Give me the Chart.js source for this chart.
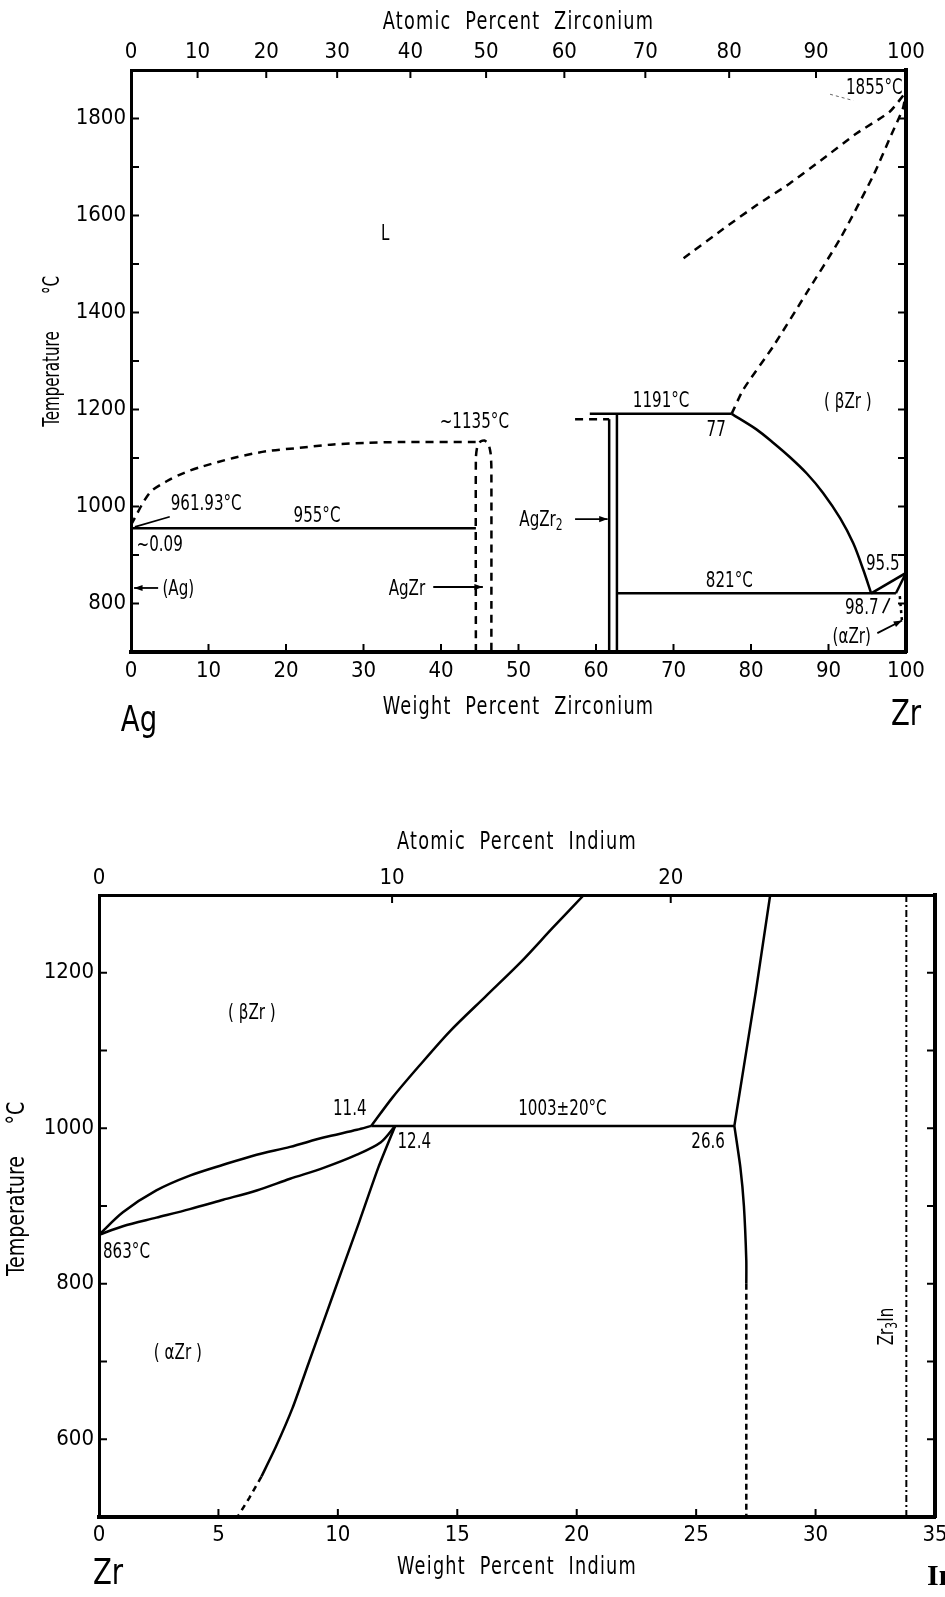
<!DOCTYPE html>
<html>
<head>
<meta charset="utf-8">
<script src="https://cdn.jsdelivr.net/npm/chart.js@4.4.1/dist/chart.umd.min.js"></script>
<style>
  html, body { margin: 0; padding: 0; background: #fff; }
  body { width: 945px; height: 1597px; position: relative; overflow: hidden; }
  canvas { position: absolute; left: 0; }
  #agzr { top: 0; }
  #zrin { top: 760px; }
</style>
</head>
<body>
<canvas id="agzr" width="945" height="750"></canvas>
<canvas id="zrin" width="945" height="837"></canvas>
<script>
// ---------- Ag-Zr : weight % Zr, temperature in deg C ----------
const agLiquidus   = [[0,962],[2.4,1028],[4.6,1052],[6.8,1069],[8.9,1081],[13.2,1100],[17.5,1114],[21.8,1121],[26.1,1128],[30.4,1131],[34.7,1133],[44.6,1133]];
const agzrPhase    = [[44.5,700],[44.5,1100],[44.7,1125],[45.1,1134],[45.6,1136],[46.1,1130],[46.4,1110],[46.5,1080],[46.5,700]];
const eutectic955  = [[0,955],[44.5,955]];
const agzr2Left    = [[61.7,700],[61.7,1180]];
const agzr2Right   = [[62.7,700],[62.7,1191]];
const agzr2Melt    = [[57.3,1180],[61.7,1180]];
const peritectic   = [[59.2,1191],[77.5,1191]];
const betaSolvus   = [[77.5,1191],[80.7,1159],[82.9,1131],[85.0,1102],[87.2,1068],[89.3,1028],[91.5,976],[93.2,924],[94.5,869],[95.4,826],[95.5,821]];
const eutectoid821 = [[62.7,821],[98.7,821]];
const betaTransus  = [[95.5,821],[100,863]];
const alphaTransus = [[98.7,821],[100,863]];
const alphaSolvus  = [[99.2,815],[99.5,760]];
const zrLiquidusA  = [[77.5,1191],[79.0,1241],[82.9,1331],[87.2,1441],[91.5,1552],[95.8,1683],[97.9,1759],[99.6,1821],[100,1855]];
const zrLiquidusB  = [[71.3,1512],[76.4,1572],[80.7,1621],[85.0,1666],[89.3,1717],[93.6,1769],[97.9,1814],[100,1855]];
const atTicksZr    = [0,10,20,30,40,50,60,70,80,90,100];

// ---------- Zr-In : weight % In, temperature in deg C ----------
const lensUpper    = [[0,863],[1.0,892],[2.4,920],[3.8,939],[5.2,953],[6.6,966],[8.0,976],[9.4,988],[10.8,998],[11.4,1003]];
const lensLower    = [[0,863],[1.0,874],[2.4,885],[3.8,896],[5.2,908],[6.6,920],[8.0,935],[9.4,949],[10.8,966],[11.8,982],[12.4,1003]];
const alphaBound   = [[12.4,1003],[11.7,950],[10.9,880],[10.2,820],[9.5,760],[8.8,700],[8.1,640],[7.4,590],[6.8,552]];
const alphaBoundDs = [[6.8,552],[6.3,525],[5.8,500]];
const eutectoid1003= [[11.4,1003],[26.6,1003]];
const betaBound    = [[11.4,1003],[12.3,1040],[13.4,1080],[14.7,1125],[16.2,1170],[17.7,1215],[19.0,1258],[20.3,1300]];
const zr3InUpper   = [[26.6,1003],[27.5,1176],[28.1,1300]];
const zr3InLower   = [[26.6,1003],[26.85,950],[27.0,900],[27.1,830],[27.1,800]];
const zr3InLowerDs = [[27.1,800],[27.1,500]];
const zr3InLine    = [[33.8,500],[33.8,1300]];
const atTicksIn    = [0,10,20];

const MASS = { Ag: 107.87, Zr: 91.22, In: 114.82 };
function atToWt(at, mSolute, mBase) {
  return 100 * at * mSolute / (at * mSolute + (100 - at) * mBase);
}

const FONT = "'DejaVu Sans Condensed', 'DejaVu Sans', sans-serif";
Chart.defaults.font.family = FONT;
Chart.defaults.color = '#000';

function line(pts, dash, tension) {
  return {
    data: pts.map(p => ({ x: p[0], y: p[1] })),
    showLine: true, pointRadius: 0, borderColor: '#000', borderWidth: 2.5,
    borderDash: dash || [], tension: tension || 0, fill: false
  };
}

// squeezed text, like the narrow lettering of the drawing
function narrowText(ctx, txt, x, y, size, sx, rot, ls) {
  ctx.save();
  ctx.font = size + 'px ' + FONT;
  ctx.letterSpacing = (ls || 0) + 'px';
  ctx.textAlign = 'center';
  ctx.textBaseline = 'middle';
  ctx.translate(x, y);
  if (rot) ctx.rotate(-Math.PI / 2);
  ctx.scale(sx, 1);
  ctx.fillText(txt, 0, 0);
  ctx.restore();
}

// inside ticks, arrows, labels and axis titles
const paper = {
  id: 'paper',
  afterDraw(chart, args, o) {
    const ctx = chart.ctx, a = chart.chartArea;
    const xs = chart.scales.x, ys = chart.scales.y;
    const px = v => xs.getPixelForValue(v), py = v => ys.getPixelForValue(v);
    ctx.save();
    ctx.strokeStyle = '#000'; ctx.fillStyle = '#000';

    ctx.lineWidth = 2;
    o.ticks.forEach(([id, len]) => {
      const sc = chart.scales[id];
      sc.ticks.forEach(t => {
        const p = sc.getPixelForValue(t.value);
        ctx.beginPath();
        if (id === 'x') { ctx.moveTo(p, a.bottom); ctx.lineTo(p, a.bottom - len); }
        else if (id === 'x2') { ctx.moveTo(p, a.top); ctx.lineTo(p, a.top + len); }
        else if (id === 'y') { ctx.moveTo(a.left, p); ctx.lineTo(a.left + len, p); }
        else { ctx.moveTo(a.right, p); ctx.lineTo(a.right - len, p); }
        ctx.stroke();
      });
    });

    (o.leaders || []).forEach(l => {
      ctx.lineWidth = l[4] ? 1 : 1.6;
      ctx.setLineDash(l[4] ? [3, 3] : []);
      ctx.strokeStyle = l[4] ? '#666' : '#000';
      ctx.beginPath(); ctx.moveTo(px(l[0]), py(l[1])); ctx.lineTo(px(l[2]), py(l[3])); ctx.stroke();
    });
    ctx.setLineDash([]); ctx.strokeStyle = '#000';

    (o.arrows || []).forEach(l => {
      const x1 = px(l[0]), y1 = py(l[1]), x2 = px(l[2]), y2 = py(l[3]);
      const ang = Math.atan2(y2 - y1, x2 - x1);
      ctx.lineWidth = 1.8;
      ctx.beginPath(); ctx.moveTo(x1, y1); ctx.lineTo(x2, y2); ctx.stroke();
      ctx.beginPath();
      ctx.moveTo(x2, y2);
      ctx.lineTo(x2 - 9 * Math.cos(ang - 0.35), y2 - 9 * Math.sin(ang - 0.35));
      ctx.lineTo(x2 - 9 * Math.cos(ang + 0.35), y2 - 9 * Math.sin(ang + 0.35));
      ctx.closePath(); ctx.fill();
    });

    // notes inside the plot, squeezed horizontally
    const SX = 0.8;
    ctx.textBaseline = 'middle';
    const main = '21px ' + FONT, small = '15px ' + FONT;
    (o.notes || []).forEach(n => {
      const parts = [[n.t, main, 0]];
      if (n.sub) parts.push([n.sub, small, 6]);
      if (n.t2) parts.push([n.t2, main, 0]);
      let w = 0;
      parts.forEach(p => { ctx.font = p[1]; w += ctx.measureText(p[0]).width; });
      ctx.save();
      ctx.translate(px(n.x), py(n.y));
      if (n.rot) ctx.rotate(-Math.PI / 2);
      ctx.scale(SX, 1);
      let x = -w / 2;
      ctx.textAlign = 'left';
      parts.forEach(p => { ctx.font = p[1]; ctx.fillText(p[0], x, p[2]); x += ctx.measureText(p[0]).width; });
      ctx.restore();
    });

    // axis titles
    const t = o.titles;
    const cx = (a.left + a.right) / 2, cy = (a.top + a.bottom) / 2;
    narrowText(ctx, t.bottom[0], cx, a.bottom + t.bottom[1], 24, 0.82, false, 1.5);
    narrowText(ctx, t.top[0], cx, a.top + t.top[1], 24, 0.82, false, 1.5);
    const L = t.left;
    narrowText(ctx, 'Temperature', L.x, cy + L.tOff, L.size, L.sx, true, 0);
    narrowText(ctx, '°C', L.x, cy + L.cOff, L.size, L.sx, true, 0);

    // element symbols
    (o.ends || []).forEach(e => {
      ctx.save();
      ctx.font = e.f || ('36px ' + FONT);
      ctx.textAlign = e.al || 'center';
      ctx.textBaseline = 'middle';
      ctx.translate(px(e.x) + e.dx, a.bottom + e.dy);
      ctx.scale(e.sx || 0.85, 1);
      ctx.fillText(e.t, 0, 0);
      ctx.restore();
    });
    ctx.restore();
  }
};

function scalesFor(c) {
  const tickFont = { size: 22 };
  return {
    x: {
      type: 'linear', position: 'bottom', min: c.xmin, max: c.xmax,
      ticks: { stepSize: c.xstep, autoSkip: false, maxRotation: 0, minRotation: 0, padding: c.xpad, font: tickFont },
      grid: { display: false, drawTicks: false }, border: { color: '#000', width: 4 },
      afterFit: s => { s.height = c.xh; s.paddingLeft = 0; s.paddingRight = 0; }
    },
    x2: {
      type: 'linear', position: 'top', min: c.xmin, max: c.xmax,
      afterBuildTicks: s => { s.ticks = c.at.map(v => ({ value: atToWt(v, c.m1, c.m2) })); },
      ticks: { autoSkip: false, maxRotation: 0, minRotation: 0, padding: c.x2pad, font: tickFont,
               callback: (v, i) => c.at[i] },
      grid: { display: false, drawTicks: false }, border: { color: '#000', width: 3 },
      afterFit: s => { s.height = c.x2h; s.paddingLeft = 0; s.paddingRight = 0; }
    },
    y: {
      type: 'linear', position: 'left', min: c.ymin, max: c.ymax,
      ticks: { stepSize: 100, autoSkip: false, padding: 5, font: tickFont,
               callback: v => (v % 200 === 0 ? v : '') },
      grid: { display: false, drawTicks: false }, border: { color: '#000', width: 3 },
      afterFit: s => { s.width = c.yw; s.paddingTop = 0; s.paddingBottom = 0; }
    },
    y2: {
      type: 'linear', position: 'right', min: c.ymin, max: c.ymax,
      ticks: { stepSize: 100, display: false },
      grid: { display: false, drawTicks: false }, border: { color: '#000', width: 4 },
      afterFit: s => { s.width = 0; }
    }
  };
}

new Chart(document.getElementById('agzr'), {
  type: 'scatter',
  data: {
    datasets: [
      line(agLiquidus, [8, 6], 0.3),
      line(agzrPhase, [8, 6], 0.2),
      line(eutectic955),
      line(agzr2Left),
      line(agzr2Right),
      line(agzr2Melt, [8, 6]),
      line(peritectic),
      line(betaSolvus, [], 0.3),
      line(eutectoid821),
      line(betaTransus),
      line(alphaTransus),
      line(alphaSolvus, [3, 4]),
      line(zrLiquidusA, [8, 6], 0.2),
      line(zrLiquidusB, [8, 6], 0.2)
    ]
  },
  options: {
    responsive: false, animation: false,
    layout: { padding: { left: 0, top: 0, right: 39, bottom: 0 } },
    plugins: {
      legend: { display: false }, tooltip: { enabled: false },
      paper: {
        ticks: [['x', 8], ['x2', 8], ['y', 8], ['y2', 8]],
        leaders: [[5.0, 979, 0.5, 958], [97.0, 780, 97.9, 811], [90.2, 1850, 93.2, 1837, true]],
        arrows: [[3.5, 832, 0.4, 832], [39.0, 834, 45.4, 834], [57.3, 974, 61.5, 974], [96.3, 739, 99.5, 765]],
        notes: [
          { t: 'L', x: 32.8, y: 1560 },
          { t: '1855°C', x: 95.9, y: 1862 },
          { t: '~1135°C', x: 44.3, y: 1173 },
          { t: '961.93°C', x: 9.7, y: 1003 },
          { t: '955°C', x: 24.0, y: 979 },
          { t: '~0.09', x: 3.7, y: 919 },
          { t: '(Ag)', x: 6.1, y: 828 },
          { t: 'AgZr', x: 35.6, y: 828 },
          { t: 'AgZr', sub: '2', x: 52.9, y: 972 },
          { t: '1191°C', x: 68.4, y: 1217 },
          { t: '77', x: 75.5, y: 1157 },
          { t: '( βZr )', x: 92.5, y: 1214 },
          { t: '821°C', x: 77.2, y: 846 },
          { t: '95.5', x: 97.0, y: 881 },
          { t: '98.7', x: 94.3, y: 790 },
          { t: '(αZr)', x: 93.0, y: 730 }
        ],
        titles: { bottom: ['Weight  Percent  Zirconium', 56], top: ['Atomic  Percent  Zirconium', -47],
                  left: { x: 53, size: 23, sx: 0.73, tOff: 18, cOff: -76 } },
        ends: [{ t: 'Ag', x: 0, dx: 8, dy: 70 }, { t: 'Zr', x: 100, dx: 0, dy: 64 }]
      }
    },
    scales: scalesFor({ xmin: 0, xmax: 100, xstep: 10, xpad: 6, xh: 98, x2pad: 5, x2h: 70,
                        at: atTicksZr, m1: MASS.Zr, m2: MASS.Ag, ymin: 700, ymax: 1900, yw: 131 })
  },
  plugins: [paper]
});

new Chart(document.getElementById('zrin'), {
  type: 'scatter',
  data: {
    datasets: [
      line(lensUpper, [], 0.3),
      line(lensLower, [], 0.3),
      line(alphaBound, [], 0.2),
      line(alphaBoundDs, [6, 5]),
      line(eutectoid1003),
      line(betaBound, [], 0.3),
      line(zr3InUpper),
      line(zr3InLower, [], 0.2),
      line(zr3InLowerDs, [6, 4]),
      Object.assign(line(zr3InLine, [7, 3, 2, 3]), { borderWidth: 2 })
    ]
  },
  options: {
    responsive: false, animation: false,
    layout: { padding: { left: 0, top: 0, right: 10, bottom: 0 } },
    plugins: {
      legend: { display: false }, tooltip: { enabled: false },
      paper: {
        ticks: [['x', 8], ['x2', 8], ['y', 8], ['y2', 8]],
        notes: [
          { t: '( βZr )', x: 6.4, y: 1147 },
          { t: '11.4', x: 10.5, y: 1024 },
          { t: '12.4', x: 13.2, y: 982 },
          { t: '1003±20°C', x: 19.4, y: 1024 },
          { t: '26.6', x: 25.5, y: 982 },
          { t: '863°C', x: 1.15, y: 840 },
          { t: '( αZr )', x: 3.3, y: 710 },
          { t: 'Zr', sub: '3', t2: 'In', x: 33.0, y: 745, rot: true }
        ],
        titles: { bottom: ['Weight  Percent  Indium', 51], top: ['Atomic  Percent  Indium', -52],
                  left: { x: 18, size: 24, sx: 0.88, tOff: 10, cOff: -93 } },
        ends: [{ t: 'Zr', x: 0, dx: 9, dy: 58 },
               { t: 'In', x: 35, dx: -8, dy: 60, al: 'left', sx: 1, f: 'bold 30px "Liberation Serif", serif' }]
      }
    },
    scales: scalesFor({ xmin: 0, xmax: 35, xstep: 5, xpad: 5, xh: 80, x2pad: 4, x2h: 135,
                        at: atTicksIn, m1: MASS.In, m2: MASS.Zr, ymin: 500, ymax: 1300, yw: 99 })
  },
  plugins: [paper]
});
</script>
</body>
</html>
